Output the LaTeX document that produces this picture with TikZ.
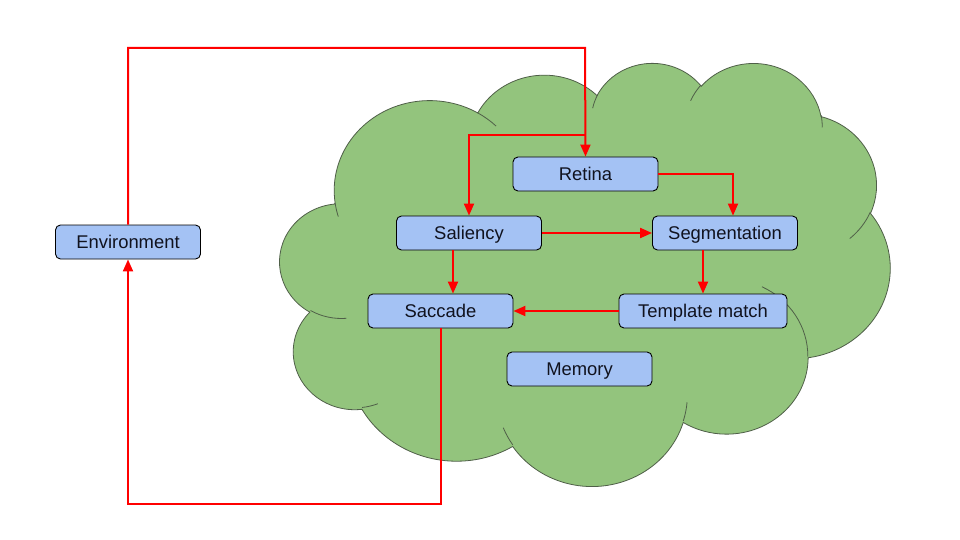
\documentclass[tikz,border=0pt]{standalone}
\usepackage{fontspec}
\setmainfont{Liberation Sans}
\usetikzlibrary{arrows.meta}
\definecolor{cloudgreen}{HTML}{93C47D}
\definecolor{cloudedge}{HTML}{4F5F48}
\definecolor{boxblue}{HTML}{A4C2F4}
\definecolor{linkred}{HTML}{FF0000}
\definecolor{textdark}{HTML}{10121E}
\tikzset{
  carc/.style n args={4}{insert path={arc[x radius=#1, y radius=#2,
     start angle={atan2((#1)*sin(#3),(#2)*cos(#3))},
     delta angle={mod(atan2((#1)*sin(#4),(#2)*cos(#4))-atan2((#1)*sin(#3),(#2)*cos(#3))+720,360)}]}},
  stepbox/.style={draw=black, fill=boxblue, rounded corners=5pt, line width=0.9pt,
     minimum width=145pt, minimum height=34pt, inner sep=0pt,
     text height=13.2pt, text depth=0pt,
     font=\fontsize{18.4}{21}\selectfont, text=textdark},
  conn/.style={draw=linkred, line width=2pt, -{Triangle[length=12pt,width=10pt]}}
}
\begin{document}
\begin{tikzpicture}[x=1pt,y=-1pt]
\useasboundingbox[fill=white] (0,0) rectangle (960,540);
% cloud
\begin{scope}[shift={(280pt,-62pt)}, x=1.412037pt, y=-0.979167pt]
\path[fill=cloudgreen, draw=cloudedge, line width=0.8pt] (39.00,143.70)
  [carc={67.53}{91.90}{-190.4875}{-66.7069}]
  [carc={53.33}{72.67}{-144.1024}{-54.1571}]
  [carc={43.65}{59.45}{-145.8079}{-46.0849}]
  [carc={48.57}{65.95}{-130.9861}{-13.7444}]
  [carc={53.33}{72.73}{-78.7089}{30.3180}]
  [carc={67.75}{92.20}{-46.2673}{84.0018}]
  [carc={57.85}{78.67}{0.6250}{114.6583}]
  [carc={67.52}{92.15}{22.4516}{137.6242}]
  [carc={77.20}{105.43}{66.2426}{141.9536}]
  [carc={43.60}{59.18}{-274.9421}{-128.2065}]
  [carc={43.45}{59.45}{-246.8285}{-94.3096}] -- cycle;
\draw[cloudedge, line width=0.8pt]
  (46.93,261.77) [carc={43.45}{59.45}{86.7420}{113.1715}]
  (69.28,348.99) [carc={43.60}{59.18}{73.6105}{85.0580}]
  (164.78,390.90) [carc={67.52}{92.15}{137.6242}{151.7053}]
  (288.27,347.51) [carc={67.52}{92.15}{6.4533}{22.4517}]
  (341.29,229.54) [carc={57.85}{78.67}{-70.2924}{0.6250}]
  (417.98,153.54) [carc={53.33}{72.73}{30.3180}{58.0695}]
  (383.24,54.26) [carc={48.57}{65.95}{-13.7443}{1.1146}]
  (290.78,39.52) [carc={48.57}{65.95}{-149.1815}{-130.9861}]
  (221.41,47.20) [carc={43.65}{59.45}{-163.4943}{-145.8079}]
  (140.00,51.92) [carc={67.53}{91.90}{-66.7070}{-54.3876}]
  (41.27,157.89) [carc={67.53}{91.90}{157.6544}{169.5126}];
\end{scope}
% nodes
\node[stepbox] (env) at (128,242) {Environment};
\node[stepbox] (ret) at (585.5,174) {Retina};
\node[stepbox] (sal) at (469,233) {Saliency};
\node[stepbox] (seg) at (725,233) {Segmentation};
\node[stepbox] (sac) at (440.5,311) {Saccade};
\node[stepbox, minimum width=168pt] (tm) at (703,311) {Template match};
\node[stepbox] (mem) at (579.5,369) {Memory};
% helper coordinates
\coordinate (bot) at (128,504);
\coordinate (top) at (585,48);
\coordinate (br) at (585,135);
\coordinate (s1) at ([xshift=-16pt]sal.south);
\coordinate (r1) at ([xshift=8pt]seg.north);
% connectors
\draw[conn] (sac.south) |- (bot) -- (env.south);
\draw[conn] (env.north) |- (top) -- (ret.north);
\draw[conn] (br) -| (sal.north);
\draw[conn] (ret.east) -| (r1);
\draw[conn] (sal.east) -- (seg.west);
\draw[conn] (s1) -- (s1 |- sac.north);
\draw[conn] (tm.north |- seg.south) -- (tm.north);
\draw[conn] (tm.west) -- (sac.east);
\end{tikzpicture}
\end{document}
